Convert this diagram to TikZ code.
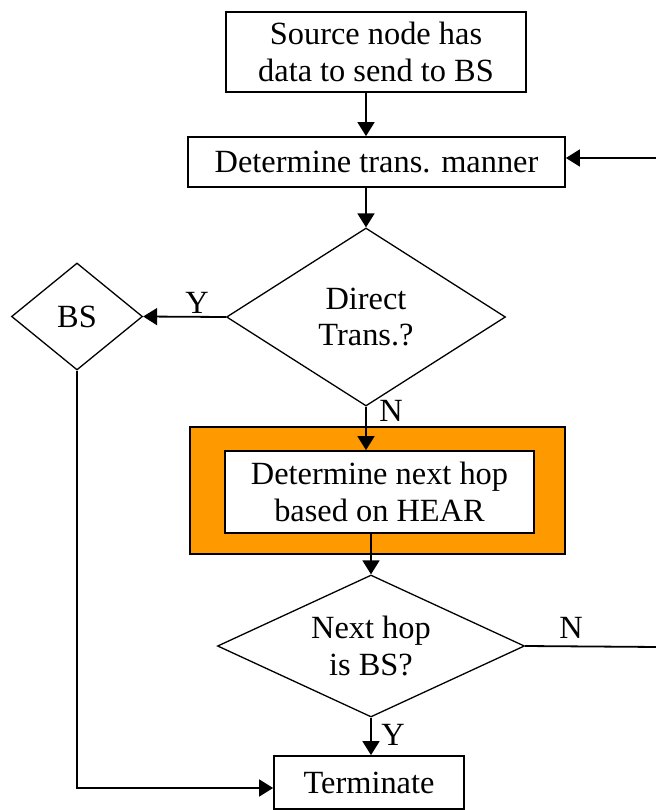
\documentclass[tikz,border=0pt]{standalone}
\usepackage{fontspec}
\setmainfont{Liberation Serif}
\usetikzlibrary{shapes.geometric,arrows.meta}
\definecolor{hearorange}{RGB}{255,153,0}
\begin{document}
\begin{tikzpicture}[x=1bp,y=-1bp,
  font=\fontsize{32.5}{36.5}\selectfont,
  procbox/.style={draw,line width=1.8bp,rectangle,inner sep=0pt,align=center},
  decision/.style={draw,line width=1.3bp,diamond,inner sep=0pt,align=center},
  arr/.style={line width=1.8bp,-{Triangle[length=14bp,width=17bp]}},
  plainline/.style={line width=1.8bp},
  lbl/.style={inner sep=0pt}]
\useasboundingbox (0,0) rectangle (656,810);

% process boxes
\node[procbox,minimum width=300bp,minimum height=80bp] (src) at (376,52)
  {Source node has\\data to send to BS};
\node[procbox,minimum width=377bp,minimum height=50bp] (det) at (376.5,162)
  {Determine trans. manner};

% decisions
\node[decision,aspect=1.57,minimum width=279bp,minimum height=178bp] (dir) at (366,317)
  {Direct\\Trans.?};
\node[decision,aspect=1.22,minimum width=131bp,minimum height=107bp] (bs) at (77,316.5) {BS};

% highlighted step: orange frame around the next-hop box
\node[draw,line width=2.2bp,fill=hearorange,rectangle,minimum width=375bp,minimum height=127bp] (hearbg) at (377.5,490.5) {};
\node[procbox,fill=white,minimum width=309bp,minimum height=82bp] (hear) at (379.5,492)
  {Determine next hop\\based on HEAR};

\node[decision,aspect=2.16,minimum width=307bp,minimum height=142bp] (nxt) at (371,646)
  {Next hop\\is BS?};
\node[procbox,minimum width=190bp,minimum height=53bp] (term) at (369,782.5) {Terminate};

% return path off the right edge
\coordinate (rc1) at (659,647);
\coordinate (rc2) at (659,158);

% connectors
\draw[arr] (src.south -| dir.north) -- (dir.north |- det.north);
\draw[arr] (det.south -| dir.north) -- (dir.north);
\draw[arr] (dir.west) -- (bs.east);
\draw[arr] (dir.south) -- (dir.south |- hear.north);
\draw[arr] (hear.south -| nxt.north) -- (nxt.north);
\draw[arr] (nxt.south) -- (nxt.south |- term.north);
\draw[arr] (bs.south) |- ([yshift=-5.5bp]term.west);
\draw[plainline] (nxt.east) -- (rc1) -- (rc2);
\draw[arr] (rc2) -- (rc2 -| det.east);

% branch labels
\node[lbl] (ly1) at (197,303) {Y};
\node[lbl] (ln1) at (391,411) {N};
\node[lbl] (ln2) at (571,628) {N};
\node[lbl] (ly2) at (393,735) {Y};
\end{tikzpicture}
\end{document}
